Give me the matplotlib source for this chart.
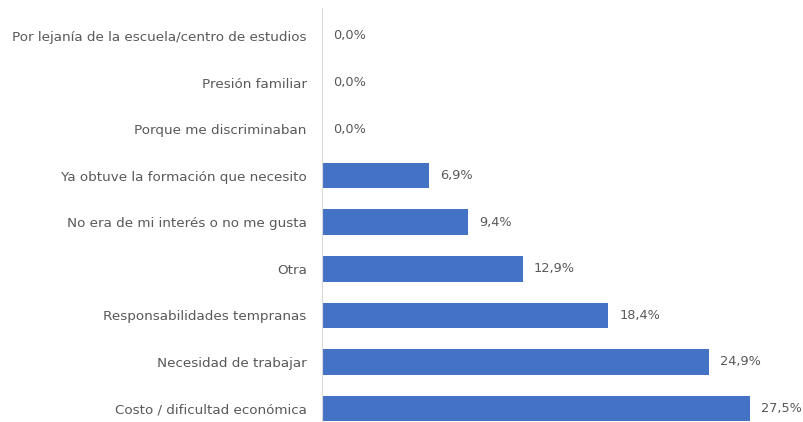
import matplotlib.pyplot as plt

categorias = [
    "Por lejanía de la escuela/centro de estudios",
    "Presión familiar",
    "Porque me discriminaban",
    "Ya obtuve la formación que necesito",
    "No era de mi interés o no me gusta",
    "Otra",
    "Responsabilidades tempranas",
    "Necesidad de trabajar",
    "Costo / dificultad económica",
]
porcentajes = [0.0, 0.0, 0.0, 6.9, 9.4, 12.9, 18.4, 24.9, 27.5]

fig = plt.figure(figsize=(8.04, 4.22), dpi=100)
ax = fig.add_axes([322 / 804, 0, 1 - 322 / 804, 414 / 422])

pos = list(range(len(categorias)))
ax.barh(pos, porcentajes, height=0.55, color="#4472C4")

for p, v in zip(pos, porcentajes):
    ax.annotate(f"{v:.1f}%".replace(".", ","), (v, p), xytext=(8, 0),
                textcoords="offset points", va="center", ha="left",
                fontsize=9.3, color="#595959")

ax.set_yticks(pos)
ax.set_yticklabels(categorias, fontsize=9.7, color="#595959")
ax.tick_params(axis="y", length=0, pad=11)
ax.set_xticks([])
ax.set_xlim(0, 31)
ax.set_ylim(8.29, -0.6)

for s in ["top", "right", "bottom"]:
    ax.spines[s].set_visible(False)
ax.spines["left"].set_color("#d9d9d9")

fig.savefig("out.png", dpi=100)
